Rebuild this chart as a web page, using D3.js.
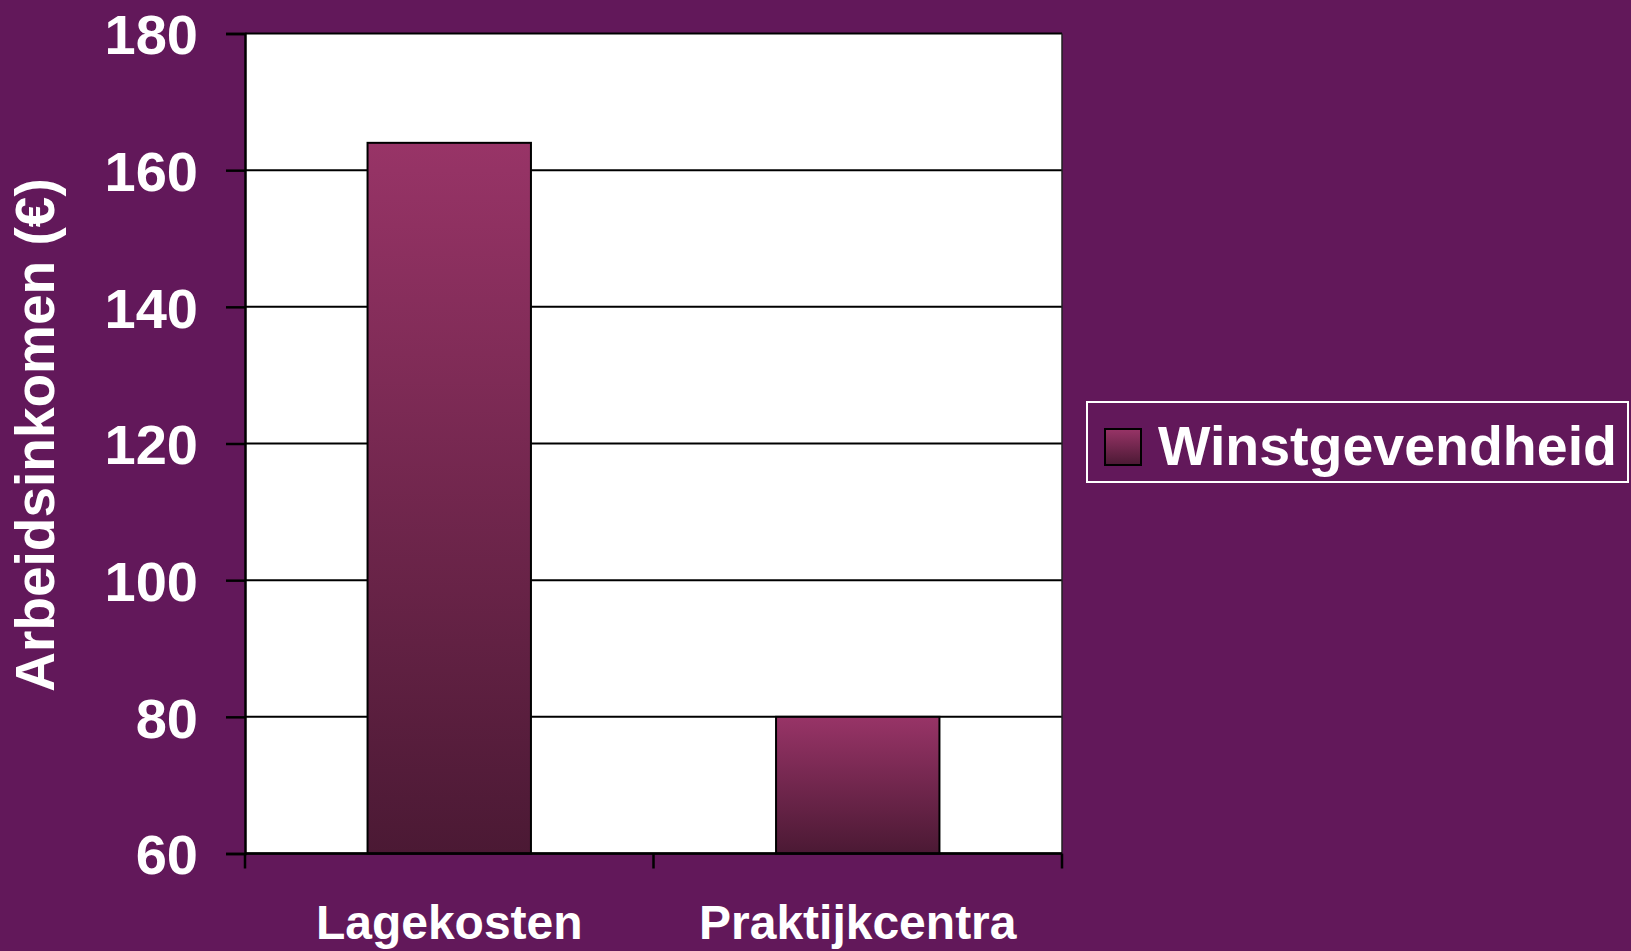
<!DOCTYPE html>
<html>
<head>
<meta charset="utf-8">
<script src="https://cdn.jsdelivr.net/npm/d3@7"></script>
<style>
  html, body { margin: 0; padding: 0; background: #62185a; }
  svg { display: block; }
  text { font-family: "Liberation Sans", Arial, sans-serif; font-weight: bold; fill: #fff; }
</style>
</head>
<body>
<script>
var width = 1631;
var height = 951;

var categories = ["Lagekosten", "Praktijkcentra"];
var values = [164, 80];
var seriesName = "Winstgevendheid";
var yTicks = [60, 80, 100, 120, 140, 160, 180];
var yTitle = "Arbeidsinkomen (\u20ac)";

var plotLeft = 245, plotRight = 1062, plotTop = 33.5, plotBottom = 853.5;

var svg = d3.select("body").append("svg")
    .attr("width", width)
    .attr("height", height);

var grad = svg.append("defs").append("linearGradient")
    .attr("id", "barGrad")
    .attr("x1", 0).attr("y1", 0).attr("x2", 0).attr("y2", 1);
grad.append("stop").attr("offset", "0%").attr("stop-color", "#983467");
grad.append("stop").attr("offset", "100%").attr("stop-color", "#4b1934");

var xScale = d3.scaleBand()
    .domain(categories)
    .range([plotLeft, plotRight])
    .paddingInner(0.6)
    .paddingOuter(0.3);

var yScale = d3.scaleLinear()
    .domain([60, 180])
    .range([plotBottom, plotTop]);

// plot background
svg.append("rect")
    .attr("x", plotLeft).attr("y", plotTop)
    .attr("width", plotRight - plotLeft).attr("height", plotBottom - plotTop)
    .attr("fill", "#fff");

// gridlines
svg.append("g").selectAll("line")
    .data(yTicks)
    .enter()
    .append("line")
    .attr("x1", plotLeft).attr("x2", plotRight)
    .attr("y1", function(d) { return yScale(d); })
    .attr("y2", function(d) { return yScale(d); })
    .attr("stroke", "#000")
    .attr("stroke-width", 2);

// right border
svg.append("line")
    .attr("x1", plotRight).attr("x2", plotRight)
    .attr("y1", plotTop).attr("y2", plotBottom)
    .attr("stroke", "#222")
    .attr("stroke-width", 1.5);

// bars
svg.append("g").selectAll("rect")
    .data(values)
    .enter()
    .append("rect")
    .attr("x", function(d, i) { return xScale(categories[i]); })
    .attr("y", function(d) { return yScale(d); })
    .attr("width", xScale.bandwidth())
    .attr("height", function(d) { return plotBottom - yScale(d); })
    .attr("fill", "url(#barGrad)")
    .attr("stroke", "#000")
    .attr("stroke-width", 2);

// y axis
var yAxis = d3.axisLeft(yScale)
    .tickValues(yTicks)
    .tickSize(19)
    .tickPadding(28);

var yG = svg.append("g")
    .attr("transform", "translate(" + plotLeft + ",0)")
    .call(yAxis);
yG.select(".domain").attr("stroke", "#000").attr("stroke-width", 2.5);
yG.selectAll(".tick line").attr("stroke", "#000").attr("stroke-width", 2.5);
yG.selectAll(".tick text")
    .attr("font-size", 56)
    .attr("font-family", null)
    .attr("fill", null)
    .attr("dy", "0.36em");

// x axis: ticks on category boundaries
var boundaries = [plotLeft, (plotLeft + plotRight) / 2, plotRight];
var xG = svg.append("g");
xG.append("line")
    .attr("x1", plotLeft).attr("x2", plotRight)
    .attr("y1", plotBottom).attr("y2", plotBottom)
    .attr("stroke", "#000").attr("stroke-width", 2.5);
xG.selectAll("line.tick")
    .data(boundaries)
    .enter()
    .append("line")
    .attr("class", "tick")
    .attr("x1", function(d) { return d; })
    .attr("x2", function(d) { return d; })
    .attr("y1", plotBottom).attr("y2", plotBottom + 15)
    .attr("stroke", "#000").attr("stroke-width", 2.5);
xG.selectAll("text")
    .data(categories)
    .enter()
    .append("text")
    .attr("x", function(d) { return xScale(d) + xScale.bandwidth() / 2; })
    .attr("y", 939)
    .attr("text-anchor", "middle")
    .attr("font-size", 48)
    .text(function(d) { return d; });

// y title
svg.append("text")
    .attr("transform", "translate(54," + 435 + ") rotate(-90)")
    .attr("text-anchor", "middle")
    .attr("font-size", 55)
    .text(yTitle);

// legend
var legend = svg.append("g");
legend.append("rect")
    .attr("x", 1087).attr("y", 402)
    .attr("width", 541).attr("height", 80)
    .attr("fill", "none")
    .attr("stroke", "#fff")
    .attr("stroke-width", 2);
legend.append("rect")
    .attr("x", 1105).attr("y", 429)
    .attr("width", 36).attr("height", 36)
    .attr("fill", "url(#barGrad)")
    .attr("stroke", "#000")
    .attr("stroke-width", 2);
legend.append("text")
    .attr("x", 1158).attr("y", 465)
    .attr("font-size", 55.5)
    .text(seriesName);
</script>
</body>
</html>
